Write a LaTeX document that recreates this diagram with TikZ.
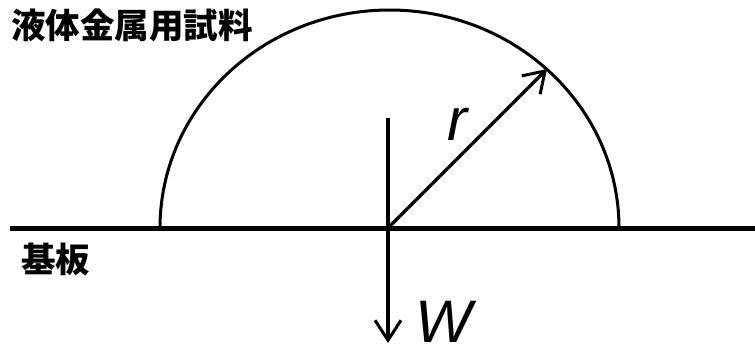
\documentclass[tikz,border=0pt]{standalone}
\usepackage{fontspec}
\setmainfont{Liberation Sans}
\newfontfamily\jp{Noto Sans CJK JP}
\usetikzlibrary{arrows.meta}
\begin{document}
\begin{tikzpicture}[x=1pt,y=-1pt,
  jplabel/.style={font=\jp\bfseries\fontsize{34.5}{34.5}\selectfont, inner sep=0pt},
  symlabel/.style={font=\itshape\fontsize{60}{60}\selectfont, inner sep=0pt},
  barb/.style={-{Straight Barb[length=20pt,width=26pt,line width=3pt]}}]
\useasboundingbox (0,0) rectangle (755,349);
\coordinate (O) at (388,228);
\coordinate (L) at (10,228);
\coordinate (Rend) at (755,228);
\coordinate (T) at (388,118);
\coordinate (B) at (388,343);
\coordinate (R) at (547,69);
% substrate
\draw[line width=5pt] (L) -- (Rend);
% droplet
\draw[line width=3pt] (160,228) arc[start angle=180, end angle=360, x radius=229.5, y radius=218];
% radius arrow
\draw[line width=3.5pt, barb] (O) -- (R);
% weight arrow
\draw[line width=3.5pt, barb] (T) -- (B);
% labels
\node[jplabel, anchor=west] (sample) at (11,25) {液体金属用試料};
\node[jplabel, anchor=west] (sub) at (21,259) {基板};
\node[symlabel, anchor=base west] (r) at (447,140) {r};
\node[symlabel, anchor=base west] (W) at (415,342) {W};
\end{tikzpicture}
\end{document}
